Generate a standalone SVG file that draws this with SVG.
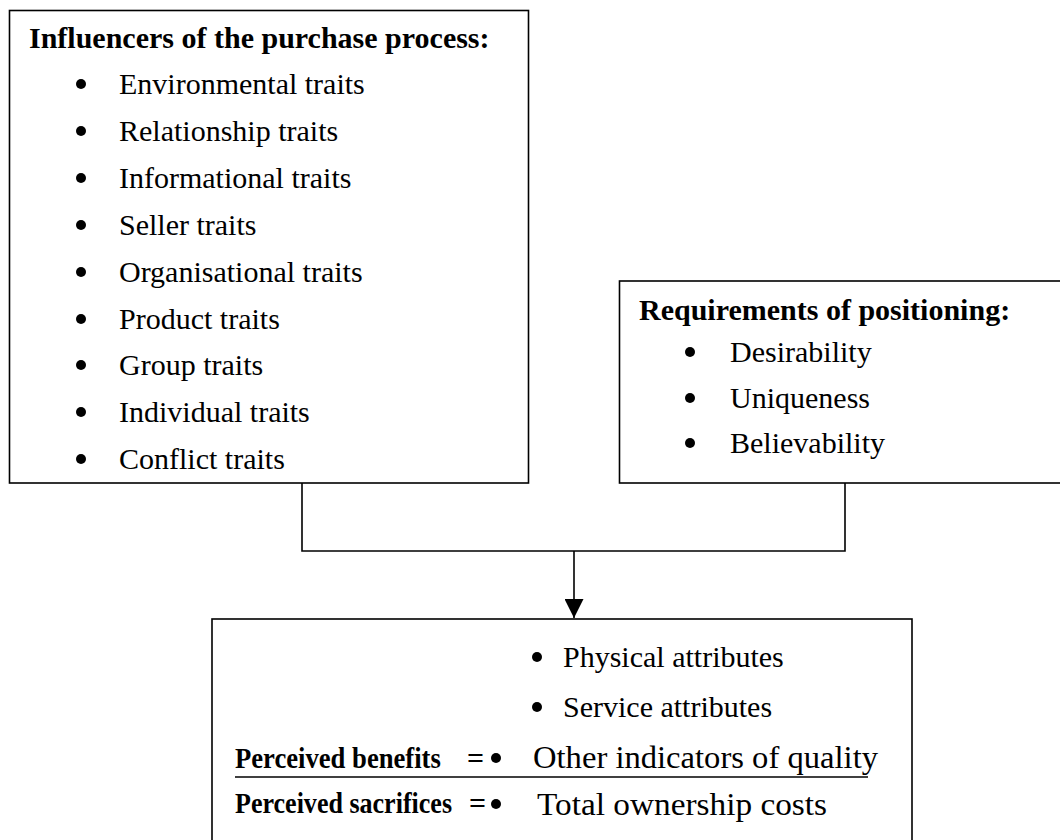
<svg xmlns="http://www.w3.org/2000/svg" width="1060" height="840" viewBox="0 0 1060 840">
  <style>
    .box { fill: #ffffff; stroke: #000000; stroke-width: 1.6; }
    .wire { fill: none; stroke: #000000; stroke-width: 1.6; }
    .t { font-family: "Liberation Serif", "Times New Roman", serif; font-size: 30px; fill: #000000; }
    .b { font-weight: bold; }
    .md { font-size: 31px; }
    .dot { fill: #000000; }
  </style>
  <defs>
    <marker id="arrow" markerWidth="19" markerHeight="19" refX="19" refY="9.5" orient="auto" markerUnits="userSpaceOnUse">
      <path d="M0,0 L19,9.5 L0,19 Z" fill="#000000"/>
    </marker>
  </defs>

  <rect width="1060" height="840" fill="#ffffff"/>

  <!-- connectors -->
  <g id="connectors">
    <path class="wire" d="M302,483 V551 H845 V483"/>
    <path class="wire" d="M574,551 V618" marker-end="url(#arrow)"/>
  </g>

  <!-- influencers box -->
  <g id="influencers">
    <rect class="box" x="9.5" y="10.5" width="519" height="472.5"/>
    <text class="t b" x="29" y="48">Influencers of the purchase process:</text>
    <g class="dot">
      <circle cx="81" cy="84" r="5"/>
      <circle cx="81" cy="131" r="5"/>
      <circle cx="81" cy="178" r="5"/>
      <circle cx="81" cy="225" r="5"/>
      <circle cx="81" cy="272" r="5"/>
      <circle cx="81" cy="319" r="5"/>
      <circle cx="81" cy="365" r="5"/>
      <circle cx="81" cy="412" r="5"/>
      <circle cx="81" cy="459" r="5"/>
    </g>
    <text class="t" x="119" y="94">Environmental traits</text>
    <text class="t" x="119" y="141">Relationship traits</text>
    <text class="t" x="119" y="188">Informational traits</text>
    <text class="t" x="119" y="235">Seller traits</text>
    <text class="t" x="119" y="282">Organisational traits</text>
    <text class="t" x="119" y="329">Product traits</text>
    <text class="t" x="119" y="375">Group traits</text>
    <text class="t" x="119" y="422">Individual traits</text>
    <text class="t" x="119" y="469">Conflict traits</text>
  </g>

  <!-- positioning box -->
  <g id="positioning">
    <rect class="box" x="619.5" y="281" width="442" height="202"/>
    <text class="t b" x="639" y="320">Requirements of positioning:</text>
    <g class="dot">
      <circle cx="690" cy="352" r="5"/>
      <circle cx="690" cy="398" r="5"/>
      <circle cx="690" cy="443" r="5"/>
    </g>
    <text class="t" x="730" y="362">Desirability</text>
    <text class="t" x="730" y="408">Uniqueness</text>
    <text class="t" x="730" y="453">Believability</text>
  </g>

  <!-- perceived value box -->
  <g id="perceived-value">
    <rect class="box" x="212" y="619" width="700" height="240"/>
    <g class="dot">
      <circle cx="537" cy="657" r="5"/>
      <circle cx="537" cy="707" r="5"/>
      <circle cx="496" cy="758" r="5"/>
      <circle cx="496" cy="804" r="5"/>
    </g>
    <text class="t" x="563" y="667">Physical attributes</text>
    <text class="t" x="563" y="717">Service attributes</text>
    <!-- bold labels are narrowed horizontally -->
    <text class="t b" transform="translate(235,768) scale(0.888,1)">Perceived benefits</text>
    <text class="t b" x="467" y="768">=</text>
    <text class="t md" x="533" y="768" textLength="345" lengthAdjust="spacingAndGlyphs">Other indicators of quality</text>
    <line class="wire" x1="235" y1="777" x2="868" y2="777"/>
    <text class="t b" transform="translate(235,813) scale(0.868,1)">Perceived sacrifices</text>
    <text class="t b" x="469" y="813">=</text>
    <text class="t md" x="537" y="815" textLength="290" lengthAdjust="spacingAndGlyphs">Total ownership costs</text>
  </g>
</svg>
